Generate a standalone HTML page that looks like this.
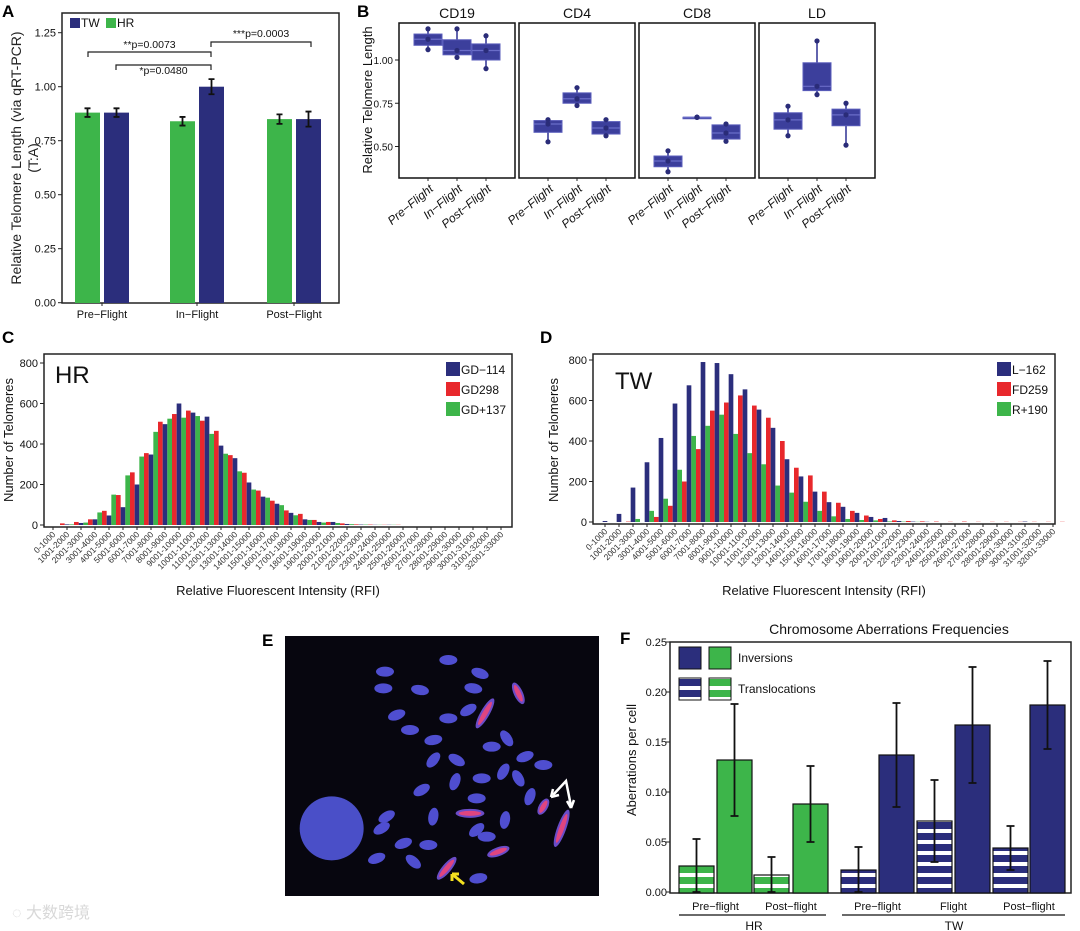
<!DOCTYPE html>
<html><head><meta charset="utf-8"><style>
html,body{margin:0;padding:0;background:#fff;}
svg{display:block;font-family:"Liberation Sans","Noto Sans CJK SC",sans-serif;}
</style></head><body>
<svg id="fig" width="1080" height="931" viewBox="0 0 1080 931" xmlns="http://www.w3.org/2000/svg">
<defs>
<pattern id="stripeNavy" patternUnits="userSpaceOnUse" width="10" height="11"><rect width="10" height="11" fill="#2b2e7c"/><rect y="4" width="10" height="4" fill="#fff"/></pattern>
<pattern id="stripeGreen" patternUnits="userSpaceOnUse" width="10" height="11"><rect width="10" height="11" fill="#3db54a"/><rect y="4" width="10" height="4" fill="#fff"/></pattern>
</defs>
<g font-weight="bold" font-size="17">
<text x="2" y="17">A</text>
<text x="357" y="17">B</text>
<text x="2" y="343">C</text>
<text x="540" y="343">D</text>
<text x="262" y="646">E</text>
<text x="620" y="644">F</text>
</g>
<g id="A"></g>
<g id="B"></g>
<g id="C"></g>
<g id="D"></g>
<g id="E"></g>
<g id="F"></g>
<text x="12" y="918" font-size="16" fill="#d8d8d8">◌ 大数跨境</text>
</svg>
<script>
// ---------- data ----------
const aCategories = ["Pre\u2212Flight","In\u2212Flight","Post\u2212Flight"];
const aHR = [0.88,0.84,0.85];
const aHRerr = [0.02,0.02,0.022];
const aTW = [0.88,1.00,0.85];
const aTWerr = [0.02,0.035,0.035];
const aTicks = [0,0.25,0.5,0.75,1.0,1.25];

const bPanels = ["CD19","CD4","CD8","LD"];
const bGroups = ["Pre\u2212Flight","In\u2212Flight","Post\u2212Flight"];
const bMin = [[1.06,1.015,0.95],[0.527,0.737,0.562],[0.354,0.669,0.53],[0.562,0.80,0.508]];
const bQ1 = [[1.085,1.03,1.00],[0.582,0.75,0.572],[0.383,0.669,0.543],[0.60,0.823,0.62]];
const bMed = [[1.12,1.055,1.055],[0.63,0.776,0.607],[0.416,0.669,0.578],[0.654,0.848,0.683]];
const bQ3 = [[1.15,1.117,1.093],[0.65,0.81,0.644],[0.445,0.669,0.625],[0.695,0.984,0.716]];
const bMax = [[1.18,1.18,1.14],[0.655,0.84,0.655],[0.475,0.669,0.63],[0.733,1.11,0.75]];
const bTicks = [0.5,0.75,1.0];

const cBlue = [0,3,10,28,47,88,200,348,498,600,555,535,392,330,210,140,105,60,28,15,15,5,2,1,1,0,0,0,0,0,0,0,0];
const cGreen = [0,3,12,62,150,245,338,460,525,530,538,450,352,265,175,135,98,48,25,12,10,4,2,1,1,0,0,0,0,0,0,0,0];
const cRed = [8,15,28,70,148,260,355,510,548,565,515,465,345,258,170,120,72,55,25,15,8,3,2,1,1,0,0,0,0,0,0,0,0];
const dBlue = [5,40,170,295,415,585,675,790,785,730,655,555,465,310,225,150,98,75,45,25,20,5,2,1,0,0,0,0,0,0,2,0,0];
const dGreen = [0,0,15,55,115,258,425,475,530,435,340,285,180,145,100,55,28,15,10,8,3,2,1,0,0,0,0,0,0,0,0,0,0];
const dRed = [0,2,0,25,80,200,360,550,590,625,575,515,400,268,230,150,95,55,32,15,8,5,3,2,1,2,1,1,1,1,1,1,1];
const histTicks = [0,200,400,600,800];

const fLabels = ["Pre\u2212flight","Post\u2212flight","Pre\u2212flight","Flight","Post\u2212flight"];
const fTransl = [0.026,0.017,0.022,0.071,0.044];
const fTranslErr = [0.027,0.018,0.023,0.041,0.022];
const fInv = [0.132,0.088,0.137,0.167,0.187];
const fInvErr = [0.056,0.038,0.052,0.058,0.044];
const fGroup = ["HR","HR","TW","TW","TW"];
const fTicks = [0,0.05,0.1,0.15,0.2,0.25];

// ---------- helpers ----------
const NS="http://www.w3.org/2000/svg";
function mk(parent, tag, attrs, name, inter){
  const el=document.createElementNS(NS,tag);
  for(const k in attrs) el.setAttribute(k, attrs[k]);
  
  
  parent.appendChild(el); return el;
}
function txt(parent, x, y, s, size, name, extra){
  const a={x:x,y:y,'font-size':size,fill:'#111'};
  if(extra) for(const k in extra) a[k]=extra[k];
  const t=mk(parent,'text',a,name,false); t.textContent=s; return t;
}
const NAVY="#2b2e7c", GREEN="#3db54a", RED="#e8282c";

// ---------- Panel A ----------
(function(){
  const g=document.getElementById('A');
  const y=v=>302.7-v*216, L=62, R=339, T=13, B=303;
  mk(g,'rect',{x:L,y:T,width:R-L,height:B-T,fill:'none',stroke:'#222','stroke-width':1.5},'plot-frame');
  aTicks.forEach(v=>{
    mk(g,'line',{x1:L-4,x2:L,y1:y(v),y2:y(v),stroke:'#222'},'y-tick');
    txt(g,L-6,y(v)+4,v.toFixed(2),11,'y-tick-label',{'text-anchor':'end'});
  });
  txt(g,0,0,"Relative Telomere Length (via qRT-PCR)",14,'y-axis-title',{transform:'translate(21,158) rotate(-90)','text-anchor':'middle',fill:'#222'});
  txt(g,0,0,"(T:A)",14,'y-axis-title-unit',{transform:'translate(38,158) rotate(-90)','text-anchor':'middle',fill:'#222'});
  const centers=[102,197,294];
  aCategories.forEach((c,i)=>{
    const cx=centers[i];
    [[aHR,aHRerr,GREEN,cx-27,'bar-hr'],[aTW,aTWerr,NAVY,cx+2,'bar-tw']].forEach(s=>{
      const v=s[0][i], e=s[1][i];
      mk(g,'rect',{x:s[3],y:y(v),width:25,height:B-y(v),fill:s[2]},s[4]+'-'+i);
      const mx=s[3]+12.5;
      mk(g,'path',{d:`M${mx},${y(v+e)}V${y(v-e)}M${mx-3},${y(v+e)}H${mx+3}M${mx-3},${y(v-e)}H${mx+3}`,stroke:'#111','stroke-width':1.8,fill:'none'},'error-bar');
    });
    mk(g,'line',{x1:cx,x2:cx,y1:B,y2:B+3,stroke:'#222'},'x-tick');
    txt(g,cx,318,c,11,'x-tick-label',{'text-anchor':'middle'});
  });
  mk(g,'rect',{x:70,y:18,width:10,height:10,fill:NAVY},'legend-tw-swatch');
  txt(g,81,27,"TW",12,'legend-tw');
  mk(g,'rect',{x:106,y:18,width:10,height:10,fill:GREEN},'legend-hr-swatch');
  txt(g,117,27,"HR",12,'legend-hr');
  const br=(x1,x2,yy,label,ty,name)=>{
    mk(g,'path',{d:`M${x1},${yy+5}V${yy}H${x2}V${yy+5}`,stroke:'#222','stroke-width':1.2,fill:'none'},name);
    txt(g,(x1+x2)/2,ty,label,10.5,name+'-label',{'text-anchor':'middle'});
  };
  br(88,211,52,"**p=0.0073",48,'bracket-pre-in');
  br(116,211,65,"*p=0.0480",74,'bracket-pre-in-tw');
  br(211,311,42,"***p=0.0003",37,'bracket-in-post');
})();

// ---------- Panel B ----------
(function(){
  const g=document.getElementById('B');
  const y=v=>60-(v-1)*173;
  const lefts=[399,519,639,759], W=116, T=23, Bt=178;
  bTicks.forEach(v=>{
    mk(g,'line',{x1:395,x2:399,y1:y(v),y2:y(v),stroke:'#222'},'y-tick');
    txt(g,393,y(v)+4,v.toFixed(2),10,'y-tick-label',{'text-anchor':'end'});
  });
  txt(g,0,0,"Relative Telomere Length",13,'y-axis-title',{transform:'translate(372,100) rotate(-90)','text-anchor':'middle'});
  bPanels.forEach((p,pi)=>{
    const L=lefts[pi];
    mk(g,'rect',{x:L,y:T,width:W,height:Bt-T,fill:'none',stroke:'#111','stroke-width':1.5},'facet-'+p);
    txt(g,L+W/2,18,p,14,'facet-title',{'text-anchor':'middle'});
    bGroups.forEach((gr,gi)=>{
      const cx=L+W/2+(gi-1)*29;
      mk(g,'line',{x1:cx,x2:cx,y1:y(bMax[pi][gi]),y2:y(bMin[pi][gi]),stroke:'#3a3d9a','stroke-width':1.6},'whisker');
      const h=Math.max(1.5,y(bQ1[pi][gi])-y(bQ3[pi][gi]));
      mk(g,'rect',{x:cx-14,y:y(bQ3[pi][gi]),width:28,height:h,fill:'#3c3f9c',stroke:'#5a5dbb','stroke-width':1},'box-'+p+'-'+gi);
      mk(g,'line',{x1:cx-14,x2:cx+14,y1:y(bMed[pi][gi]),y2:y(bMed[pi][gi]),stroke:'#6a6dc8','stroke-width':1.2},'median');
      [bMax[pi][gi],bMin[pi][gi],bMed[pi][gi]].forEach(v=>mk(g,'circle',{cx:cx,cy:y(v),r:2.6,fill:'#2a2c78'},'point'));
      mk(g,'line',{x1:cx,x2:cx,y1:Bt,y2:Bt+3,stroke:'#222'},'x-tick');
      txt(g,0,0,gr,12,'x-tick-label',{transform:`translate(${cx+6},${Bt+12}) rotate(-40)`,'text-anchor':'end','font-style':'italic'});
    });
  });
})();

// ---------- Histograms C & D ----------
function hist(id, L, R, T, B, y0, y800, x0, blue, green, red, names, big, legX, legY, ylabX){
  const g=document.getElementById(id);
  const y=v=>y0-(v/800)*(y0-y800), bw=14/3;
  mk(g,'rect',{x:L,y:T,width:R-L,height:B-T,fill:'none',stroke:'#222','stroke-width':1.5},'plot-frame');
  histTicks.forEach(v=>{
    mk(g,'line',{x1:L-4,x2:L,y1:y(v),y2:y(v),stroke:'#222'},'y-tick');
    txt(g,L-6,y(v)+4,String(v),11,'y-tick-label',{'text-anchor':'end'});
  });
  txt(g,0,0,"Number of Telomeres",13,'y-axis-title',{transform:`translate(${ylabX},440) rotate(-90)`,'text-anchor':'middle'});
  for(let i=0;i<blue.length;i++){
    const tx=x0+i*14;
    [[blue,NAVY],[green,GREEN],[red,RED]].forEach((s,k)=>{
      const v=s[0][i]; if(v<=0) return;
      mk(g,'rect',{x:tx-bw/2+k*bw,y:y(v),width:bw,height:y0-y(v),fill:s[1]},'bar-'+names[k]);
    });
    mk(g,'line',{x1:tx,x2:tx,y1:B,y2:B+3,stroke:'#222'},'x-tick');
    const lab=(i===0?"0":String(i*1000+1))+"-"+((i+1)*1000);
    txt(g,0,0,lab,8.5,'x-tick-label',{transform:`translate(${tx+3},${B+8}) rotate(-45)`,'text-anchor':'end',fill:'#333'});
  }
  txt(g,(L+R)/2,595,"Relative Fluorescent Intensity (RFI)",13,'x-axis-title',{'text-anchor':'middle'});
  txt(g,big[1],big[2],big[0],24,'subject-label');
  [NAVY,RED,GREEN].forEach((c,k)=>{
    mk(g,'rect',{x:legX,y:legY+k*20-7,width:14,height:14,fill:c},'legend-swatch');
    txt(g,legX+15,legY+k*20+5,names[k===1?2:(k===2?1:0)],12,'legend-entry');
  });
}
hist('C',44,512,354,527,525,363,53,cBlue,cGreen,cRed,["GD\u2212114","GD+137","GD298"],["HR",55,383],446,369,13);
hist('D',593,1055,354,524,522,360,605,dBlue,dGreen,dRed,["L\u2212162","R+190","FD259"],["TW",615,389],997,369,558);

// ---------- Panel E (micrograph) ----------
const eBlobs=[[625,150,0],[720,190,20],[435,185,0],[430,235,0],[540,240,10],[700,235,10],[470,315,-20],[625,325,0],[685,300,-30],[510,360,0],[580,390,-10],[800,385,55],[755,410,0],[580,450,-50],[650,450,30],[855,440,-20],[910,465,0],[545,540,-30],[645,515,-70],[725,505,0],[790,485,-60],[835,505,60],[870,560,-70],[710,565,0],[580,620,-80],[795,630,-80],[440,620,-30],[425,655,-30],[710,660,-40],[740,680,0],[490,700,-20],[565,705,0],[410,745,-20],[520,755,40],[715,805,-10]];
const ePink=[[835,250,65,1.3],[735,310,-60,1.9],[690,610,0,1.6],[910,590,-60,1],[965,655,-70,2.2],[775,725,-20,1.3],[620,775,-50,1.6]];
(function(){
  const g=document.getElementById('E');
  mk(g,'rect',{x:285,y:636,width:314,height:260,fill:'#07060f'},'micrograph-background');
  const P=(zx,zy)=>[240+zx/3,610+zy/3];
  let c=P(275,655);
  mk(g,'circle',{cx:c[0],cy:c[1],r:32,fill:'#4a4fc8'},'nucleus');
  eBlobs.forEach(b=>{const p=P(b[0],b[1]);
    mk(g,'ellipse',{cx:p[0],cy:p[1],rx:9,ry:5,fill:'#4f4ed0',transform:`rotate(${b[2]} ${p[0]} ${p[1]})`},'chromosome');});
  ePink.forEach(b=>{const p=P(b[0],b[1]);
    mk(g,'ellipse',{cx:p[0],cy:p[1],rx:9*b[3],ry:4.5,fill:'#6a4cc8',transform:`rotate(${b[2]} ${p[0]} ${p[1]})`},'chromosome-probe');
    mk(g,'ellipse',{cx:p[0],cy:p[1],rx:7*b[3],ry:2.5,fill:'#e0457f',transform:`rotate(${b[2]} ${p[0]} ${p[1]})`},'telomere-signal');});
  mk(g,'path',{d:'M553,795 L566,781 L571,806',stroke:'#fff','stroke-width':2.5,fill:'none'},'white-arrow');
  mk(g,'path',{d:'M551,797 L553,789 M551,797 L559,795 M571,808 L567,801 M571,808 L574,800',stroke:'#fff','stroke-width':2.5,fill:'none'},'white-arrowheads');
  mk(g,'path',{d:'M464,884 L452,874 M452,874 L452,881 M452,874 L459,874',stroke:'#f3e020','stroke-width':3,fill:'none'},'yellow-arrow');
})();

// ---------- Panel F ----------
(function(){
  const g=document.getElementById('F');
  const y=v=>892-v*1000, L=670, R=1071, T=642, B=893;
  const tx=[679,754,841,917,993], ix=[717,793,879,955,1030], bw=35;
  txt(g,889,634,"Chromosome Aberrations Frequencies",14,'chart-title',{'text-anchor':'middle'});
  mk(g,'rect',{x:L,y:T,width:R-L,height:B-T,fill:'none',stroke:'#222','stroke-width':1.5},'plot-frame');
  fTicks.forEach(v=>{
    mk(g,'line',{x1:L-4,x2:L,y1:y(v),y2:y(v),stroke:'#222'},'y-tick');
    txt(g,L-3,y(v)+4,v.toFixed(2),11,'y-tick-label',{'text-anchor':'end'});
  });
  txt(g,0,0,"Aberrations per cell",13,'y-axis-title',{transform:'translate(636,760) rotate(-90)','text-anchor':'middle'});
  const eb=(x,v,e)=>mk(g,'path',{d:`M${x},${y(v+e)}V${y(Math.max(0,v-e))}M${x-4},${y(v+e)}H${x+4}M${x-4},${y(Math.max(0,v-e))}H${x+4}`,stroke:'#111','stroke-width':1.8,fill:'none'},'error-bar');
  fLabels.forEach((lab,i)=>{
    const hr=fGroup[i]==="HR";
    mk(g,'rect',{x:tx[i],y:y(fTransl[i]),width:bw,height:B-y(fTransl[i]),fill:hr?'url(#stripeGreen)':'url(#stripeNavy)',stroke:'#111','stroke-width':1.2},'bar-translocations');
    mk(g,'rect',{x:ix[i],y:y(fInv[i]),width:bw,height:B-y(fInv[i]),fill:hr?GREEN:NAVY,stroke:'#111','stroke-width':1.2},'bar-inversions');
    eb(tx[i]+bw/2,fTransl[i],fTranslErr[i]);
    eb(ix[i]+bw/2,fInv[i],fInvErr[i]);
    txt(g,(tx[i]+ix[i]+bw)/2,910,lab,11,'x-tick-label',{'text-anchor':'middle'});
  });
  mk(g,'line',{x1:679,x2:826,y1:915,y2:915,stroke:'#111','stroke-width':1.2},'group-line-hr');
  mk(g,'line',{x1:842,x2:1065,y1:915,y2:915,stroke:'#111','stroke-width':1.2},'group-line-tw');
  txt(g,754,930,"HR",12,'group-label-hr',{'text-anchor':'middle'});
  txt(g,954,930,"TW",12,'group-label-tw',{'text-anchor':'middle'});
  mk(g,'rect',{x:679,y:647,width:22,height:22,fill:NAVY,stroke:'#111'},'legend-inv-tw');
  mk(g,'rect',{x:709,y:647,width:22,height:22,fill:GREEN,stroke:'#111'},'legend-inv-hr');
  txt(g,738,662,"Inversions",12,'legend-inversions');
  mk(g,'rect',{x:679,y:678,width:22,height:22,fill:'url(#stripeNavy)',stroke:'#111'},'legend-tr-tw');
  mk(g,'rect',{x:709,y:678,width:22,height:22,fill:'url(#stripeGreen)',stroke:'#111'},'legend-tr-hr');
  txt(g,738,693,"Translocations",12,'legend-translocations');
})();
</script>
</body></html>
